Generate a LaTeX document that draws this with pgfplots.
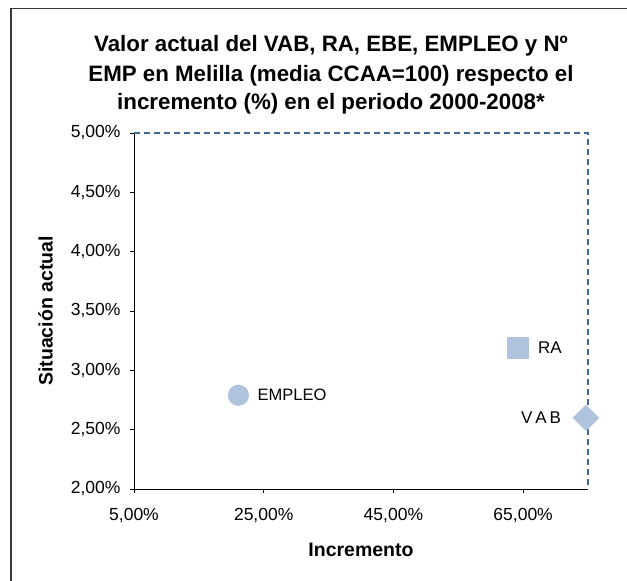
\documentclass[border=0pt]{standalone}
\usepackage{pgfplots}
\pgfplotsset{compat=1.18}
\usepackage{fontspec}
\setmainfont{Liberation Sans}
\definecolor{mk}{HTML}{AFC3DD}
\definecolor{dashblue}{HTML}{41689A}
\definecolor{framegray}{HTML}{3A3A3A}
\begin{document}
\begin{tikzpicture}[x=1pt,y=1pt]
\useasboundingbox (0,0) rectangle (627,581);
\draw[framegray, line width=1.6pt] (11,-5) -- (11,572.5) -- (640,572.5);
\begin{axis}[
  at={(134pt,92pt)}, anchor=south west,
  scale only axis, width=454pt, height=356pt,
  xmin=5, xmax=75, ymin=2, ymax=5,
  axis x line*=bottom, axis y line*=left,
  axis line style={-, black, line width=0.8pt},
  xtick={5,25,45,65}, xticklabels={{5,00\%},{25,00\%},{45,00\%},{65,00\%}},
  ytick={2,2.5,3,3.5,4,4.5,5},
  yticklabels={{2,00\%},{2,50\%},{3,00\%},{3,50\%},{4,00\%},{4,50\%},{5,00\%}},
  tick align=outside, major tick length=4pt,
  tick style={black, line width=0.8pt},
  ticklabel style={font=\fontsize{17.5}{20}\selectfont},
  xticklabel style={yshift=-12pt},
  yticklabel style={xshift=-6pt},
  clip=false,
]
\draw[dashblue, line width=1.1pt, dash pattern=on 6pt off 4pt] (rel axis cs:0,1) -- (rel axis cs:1,1) -- (rel axis cs:1,0);
\addplot[only marks, mark=*, mark size=10.35pt, mark options={fill=mk, draw=mk}] coordinates {(21.1,2.79)}
  node[right=19pt, font=\fontsize{16.5}{19}\selectfont, inner sep=0pt] {EMPLEO};
\addplot[only marks, mark=square*, mark size=10.35pt, mark options={fill=mk, draw=mk}] coordinates {(64.2,3.19)}
  node[right=20pt, font=\fontsize{17}{19}\selectfont, inner sep=0pt] {RA};
\addplot[only marks, mark=square*, mark size=9.1pt, mark options={fill=mk, draw=mk, rotate=45}] coordinates {(74.7,2.60)}
  node[left=25pt, font=\fontsize{17}{19}\selectfont, inner sep=0pt] {V\,A\,B};
\end{axis}
\node[anchor=base, font=\bfseries\fontsize{22.3}{25}\selectfont] at (331,529) {Valor actual del VAB, RA, EBE, EMPLEO y Nº};
\node[anchor=base, font=\bfseries\fontsize{22.3}{25}\selectfont] at (331,499.5) {EMP en Melilla (media CCAA=100) respecto el};
\node[anchor=base, font=\bfseries\fontsize{22.3}{25}\selectfont] at (331,471) {incremento (\%) en el periodo 2000-2008*};
\node[anchor=base, font=\bfseries\fontsize{19.5}{21}\selectfont] at (361,24) {Incremento};
\node[rotate=90, font=\bfseries\fontsize{19.5}{21}\selectfont] at (45.5,270) {Situación actual};
\end{tikzpicture}
\end{document}
